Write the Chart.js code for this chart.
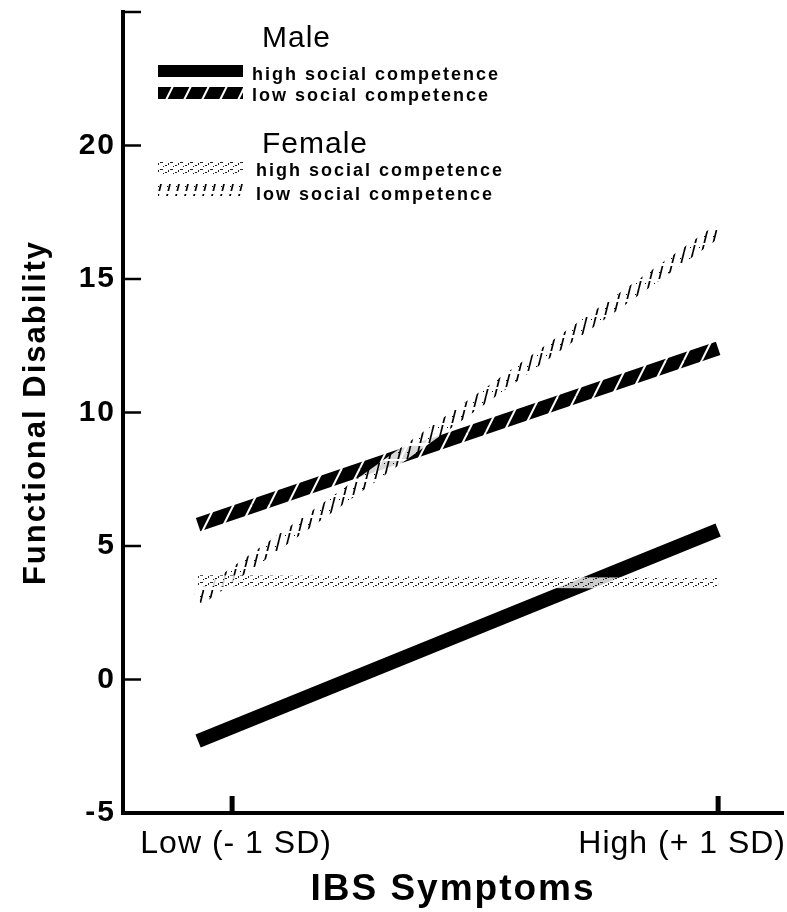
<!DOCTYPE html>
<html><head><meta charset="utf-8">
<script src="https://cdn.jsdelivr.net/npm/chart.js@4.4.0/dist/chart.umd.min.js"></script>
<style>html,body{margin:0;padding:0;background:#fff}canvas{display:block}</style>
</head><body>
<canvas id="c" width="787" height="912"></canvas>
<script>
// ---- data ----
const xPositions = [-1.14, 1.0];           // where the plotted segments begin / end (in SD units)
const xTickValues = [-1, 1];
const xTickLabels = ['Low (- 1 SD)', 'High (+ 1 SD)'];
const yTickValues = [-5, 0, 5, 10, 15, 20, 25];
const maleHigh = [-2.3, 5.6];
const maleLow = [5.8, 12.4];
const femaleHigh = [3.7, 3.6];
const femaleLow = [3.0, 16.8];
const groupNames = ['Male', 'Female'];
const levelNames = ['high social competence', 'low social competence'];
const xTitle = 'IBS Symptoms';
const yTitle = 'Functional Disability';

const FONT = '"Liberation Sans", Arial, Helvetica, sans-serif';
const canvas = document.getElementById('c');
const mainCtx = canvas.getContext('2d');

function makePattern(w, h, draw) {
  const c = document.createElement('canvas');
  c.width = w; c.height = h;
  const g = c.getContext('2d');
  draw(g, w, h);
  return mainCtx.createPattern(c, 'repeat');
}
const patMaleHigh = '#000';
const patMaleLow = makePattern(18, 36, (g, w, h) => {
  g.fillStyle = '#000'; g.fillRect(0, 0, w, h);
  g.strokeStyle = '#fff'; g.lineWidth = 2;
  [-18, 0, 18].forEach(x => { g.beginPath(); g.moveTo(x, h); g.lineTo(x + 18, 0); g.stroke(); });
});
const patFemaleLow = makePattern(9, 36, (g, w, h) => {
  g.fillStyle = 'rgba(255,255,255,0.85)'; g.fillRect(0, 0, w, h);
  g.strokeStyle = '#000'; g.lineWidth = 1.7;
  [-9, 0, 9].forEach(x => { g.beginPath(); g.moveTo(x, h); g.lineTo(x + 9, 0); g.stroke(); });
  g.fillStyle = 'rgba(255,255,255,1)';
  g.fillRect(0, 11, w, 3); g.fillRect(0, 27, w, 2);
  g.fillStyle = '#000';
  g.fillRect(5, 6, 1, 1); g.fillRect(2, 20, 1, 1); g.fillRect(6, 31, 1, 1);
});
const patFemaleHigh = makePattern(10, 7, (g, w, h) => {
  g.fillStyle = 'rgba(255,255,255,0.8)'; g.fillRect(0, 0, w, h);
  g.fillStyle = '#222';
  g.fillRect(0, 1, 3, 1); g.fillRect(5, 4, 2, 1); g.fillRect(8, 2, 1, 2); g.fillRect(3, 5, 1, 1);
});

function pts(arr) { return arr.map((v, i) => ({ x: xPositions[i], y: v })); }

const seriesStyles = [
  { data: femaleHigh, color: patFemaleHigh, width: 11, group: 1, level: 0 },
  { data: femaleLow, color: patFemaleLow, width: 13, group: 1, level: 1 },
  { data: maleLow, color: patMaleLow, width: 14, group: 0, level: 1 },
  { data: maleHigh, color: patMaleHigh, width: 14, group: 0, level: 0 }
];

const decor = {
  id: 'decor',
  beforeDraw(chart) { chart.ctx.letterSpacing = '2px'; },
  afterDraw(chart) {
    const ctx = chart.ctx, xs = chart.scales.x, ys = chart.scales.y, area = chart.chartArea;
    ctx.save();
    ctx.letterSpacing = '0px';
    ctx.strokeStyle = '#000';
    ctx.lineWidth = 2.5;
    yTickValues.forEach(v => {
      if (v === yTickValues[0]) return;
      const py = ys.getPixelForValue(v);
      ctx.beginPath(); ctx.moveTo(area.left, py); ctx.lineTo(area.left + 18, py); ctx.stroke();
    });
    ctx.lineWidth = 5;
    xTickValues.forEach(v => {
      const px = xs.getPixelForValue(v);
      ctx.beginPath(); ctx.moveTo(px, area.bottom); ctx.lineTo(px, area.bottom - 17); ctx.stroke();
    });
    // x tick labels
    ctx.fillStyle = '#000';
    ctx.font = '32px ' + FONT;
    ctx.letterSpacing = '1px';
    ctx.textBaseline = 'alphabetic';
    ctx.textAlign = 'center';
    ctx.fillText(xTickLabels[0], xs.getPixelForValue(xTickValues[0]) + 4, area.bottom + 40);
    ctx.textAlign = 'right';
    ctx.fillText(xTickLabels[1], xs.right + 3, area.bottom + 40);
    // legend
    const groupBase = [47, 153];
    const swatchY = [[71, 93], [168, 190]];
    const textBase = [[80, 101], [176, 200]];
    ctx.textAlign = 'left';
    groupNames.forEach((gName, gi) => {
      ctx.font = '30px ' + FONT; ctx.letterSpacing = '1px';
      ctx.fillStyle = '#000';
      ctx.fillText(gName, 262, groupBase[gi]);
      levelNames.forEach((lName, li) => {
        const s = seriesStyles.find(d => d.group === gi && d.level === li);
        const y = swatchY[gi][li];
        ctx.fillStyle = s.color;
        ctx.fillRect(158, y - 6, 85, 12);
        ctx.fillStyle = '#000';
        ctx.font = 'bold 18px ' + FONT; ctx.letterSpacing = '2px';
        ctx.fillText(lName, gi === 0 ? 252 : 256, textBase[gi][li]);
      });
    });
    ctx.restore();
  }
};

new Chart(canvas, {
  type: 'line',
  data: {
    datasets: seriesStyles.map((s, i) => ({
      label: groupNames[s.group] + ' ' + levelNames[s.level],
      data: pts(s.data),
      borderColor: s.color,
      backgroundColor: s.color,
      borderWidth: s.width,
      borderCapStyle: 'butt',
      pointRadius: 0,
      fill: false,
      tension: 0
    }))
  },
  options: {
    responsive: false,
    animation: false,
    devicePixelRatio: 1,
    layout: { padding: { top: 12, right: 4, left: 0, bottom: 0 } },
    plugins: { legend: { display: false }, tooltip: { enabled: false } },
    scales: {
      x: {
        type: 'linear', min: -1.449, max: 1.267,
        grid: { display: false, drawTicks: false },
        border: { display: true, color: '#000', width: 4 },
        ticks: { display: false },
        afterBuildTicks: sc => { sc.ticks = xTickValues.map(v => ({ value: v })); },
        afterFit: sc => { sc.height = 99; sc.paddingLeft = 0; sc.paddingRight = 0; },
        title: { display: true, text: xTitle, color: '#000', font: { family: FONT, size: 37, weight: 'bold' }, padding: { top: 0, bottom: 0 } }
      },
      y: {
        type: 'linear', min: -5, max: 25,
        grid: { display: false, drawTicks: false },
        border: { display: true, color: '#000', width: 4 },
        afterBuildTicks: sc => { sc.ticks = yTickValues.map(v => ({ value: v })); },
        afterFit: sc => { sc.width = 123; sc.paddingTop = 0; sc.paddingBottom = 0; },
        ticks: {
          color: '#000', padding: 7,
          font: { family: FONT, size: 30, weight: 'bold' },
          callback: v => (v === yTickValues[yTickValues.length - 1] ? null : String(v))
        },
        title: { display: true, text: yTitle, color: '#000', font: { family: FONT, size: 31, weight: 'bold' }, padding: { top: 18, bottom: 0 } }
      }
    }
  },
  plugins: [decor]
});
</script>
</body></html>
